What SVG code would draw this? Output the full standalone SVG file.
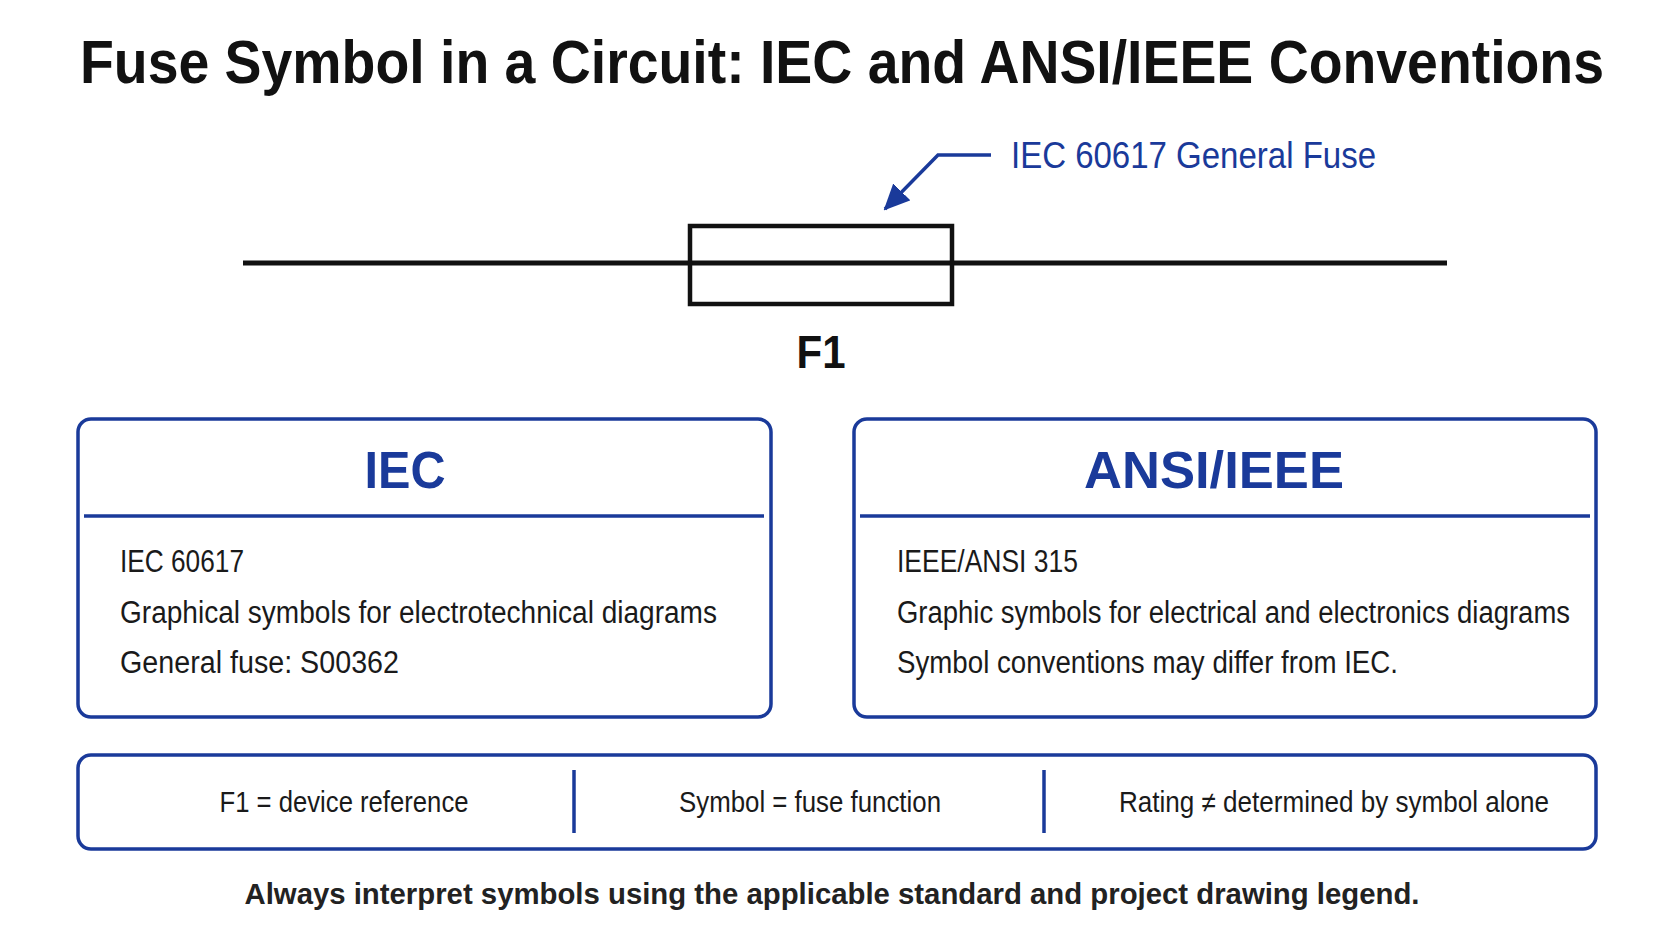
<svg xmlns="http://www.w3.org/2000/svg" width="1672" height="941" viewBox="0 0 1672 941">
<style>
text{font-family:"Liberation Sans","Roboto",sans-serif}
.box{fill:#fff;stroke:#1a3a9a;stroke-width:3.5}
.div{stroke:#1a3a9a;stroke-width:3.5}
.hd{font-size:52px;font-weight:bold;fill:#1a3a9a;text-anchor:middle}
.bd{font-size:31px;fill:#1a1a1a}
.bt{font-size:29px;fill:#1a1a1a;text-anchor:middle}
</style>
<defs><marker id="ah" markerWidth="10" markerHeight="10" refX="8" refY="5" orient="auto" markerUnits="userSpaceOnUse" viewBox="0 0 10 10"><path d="M0,0 L10,5 L0,10 Z" fill="#1a3a9a"/></marker>
<marker id="ah2" markerWidth="26" markerHeight="24" refX="24" refY="12" orient="auto" markerUnits="userSpaceOnUse"><path d="M0,0 L26,12 L0,24 Z" fill="#1a3a9a"/></marker></defs>
<rect width="1672" height="941" fill="#fff"/>
<text x="842" y="83" font-size="62" font-weight="bold" fill="#111" text-anchor="middle" textLength="1524" lengthAdjust="spacingAndGlyphs">Fuse Symbol in a Circuit: IEC and ANSI/IEEE Conventions</text>
<g id="connectors">
<path d="M991,155 L938,155 L885,209" fill="none" stroke="#1a3a9a" stroke-width="3.5" marker-end="url(#ah2)"/>
</g>
<g id="fuse">
<line x1="243" y1="263" x2="1447" y2="263" stroke="#111" stroke-width="5"/>
<rect x="690" y="226" width="262" height="78" fill="none" stroke="#111" stroke-width="4.5"/>
<text x="821" y="368" font-size="46" font-weight="bold" fill="#111" text-anchor="middle" textLength="49" lengthAdjust="spacingAndGlyphs">F1</text>
</g>
<g id="label"><text x="1011" y="168" font-size="36" fill="#1a3a9a" textLength="365" lengthAdjust="spacingAndGlyphs">IEC 60617 General Fuse</text></g>
<g id="iec">
<rect class="box" x="78" y="419" width="693" height="298" rx="13"/>
<line class="div" x1="84" y1="516" x2="764" y2="516"/>
<text class="hd" x="405" y="488" textLength="81" lengthAdjust="spacingAndGlyphs">IEC</text>
<text class="bd" x="120" y="572" textLength="124" lengthAdjust="spacingAndGlyphs">IEC 60617</text>
<text class="bd" x="120" y="623" textLength="597" lengthAdjust="spacingAndGlyphs">Graphical symbols for electrotechnical diagrams</text>
<text class="bd" x="120" y="673" textLength="279" lengthAdjust="spacingAndGlyphs">General fuse: S00362</text>
</g>
<g id="ansi">
<rect class="box" x="854" y="419" width="742" height="298" rx="13"/>
<line class="div" x1="860" y1="516" x2="1590" y2="516"/>
<text class="hd" x="1214" y="488" textLength="260" lengthAdjust="spacingAndGlyphs">ANSI/IEEE</text>
<text class="bd" x="897" y="572" textLength="181" lengthAdjust="spacingAndGlyphs">IEEE/ANSI 315</text>
<text class="bd" x="897" y="623" textLength="673" lengthAdjust="spacingAndGlyphs">Graphic symbols for electrical and electronics diagrams</text>
<text class="bd" x="897" y="673" textLength="501" lengthAdjust="spacingAndGlyphs">Symbol conventions may differ from IEC.</text>
</g>
<g id="notes">
<rect class="box" x="78" y="755" width="1518" height="94" rx="13"/>
<line class="div" x1="574" y1="770" x2="574" y2="833"/>
<line class="div" x1="1044" y1="770" x2="1044" y2="833"/>
<text class="bt" x="344" y="812" textLength="249" lengthAdjust="spacingAndGlyphs">F1 = device reference</text>
<text class="bt" x="810" y="812" textLength="262" lengthAdjust="spacingAndGlyphs">Symbol = fuse function</text>
<text class="bt" x="1334" y="812" textLength="430" lengthAdjust="spacingAndGlyphs">Rating ≠ determined by symbol alone</text>
</g>
<g id="footer"><text x="832" y="904" font-size="29" font-weight="bold" fill="#222" text-anchor="middle" textLength="1175" lengthAdjust="spacingAndGlyphs">Always interpret symbols using the applicable standard and project drawing legend.</text></g>
</svg>
